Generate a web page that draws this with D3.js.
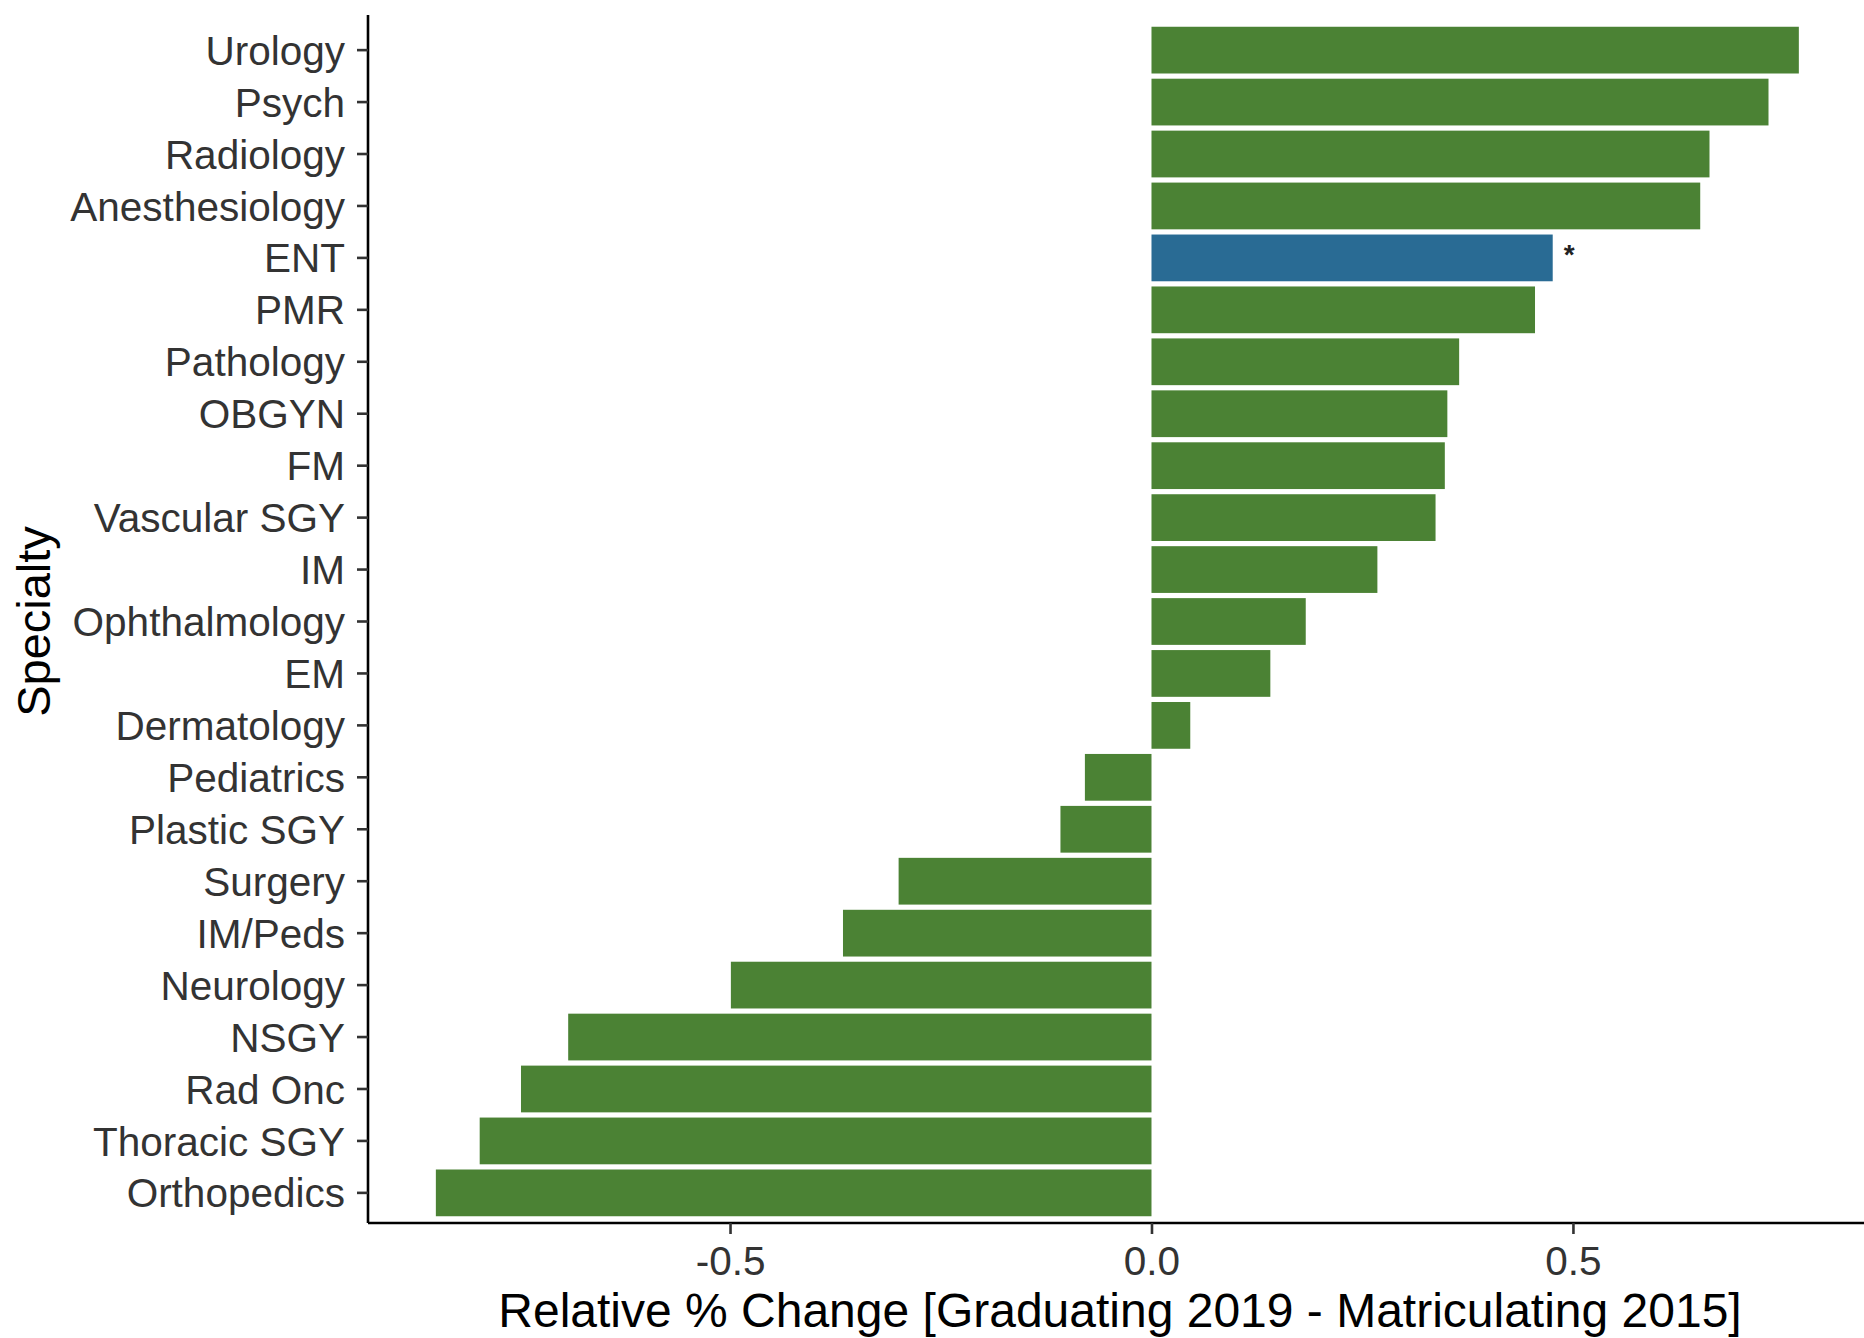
<!DOCTYPE html>
<html><head><meta charset="utf-8">
<script src="https://cdn.jsdelivr.net/npm/d3@7"></script>
<style>body{margin:0;background:#fff}svg{display:block}</style>
</head><body>
<script>
const categories = ["Urology","Psych","Radiology","Anesthesiology","ENT","PMR","Pathology","OBGYN","FM","Vascular SGY","IM","Ophthalmology","EM","Dermatology","Pediatrics","Plastic SGY","Surgery","IM/Peds","Neurology","NSGY","Rad Onc","Thoracic SGY","Orthopedics"];
const values = [0.768,0.732,0.662,0.651,0.476,0.455,0.365,0.351,0.348,0.337,0.268,0.183,0.141,0.046,-0.079,-0.108,-0.300,-0.366,-0.499,-0.692,-0.748,-0.797,-0.849];
const highlighted = ["ENT"];
const xTicks = [-0.5,0.0,0.5];
const xTitle = "Relative % Change [Graduating 2019 - Matriculating 2015]";
const yTitle = "Specialty";

const W=1864,H=1338;
const m={left:368,right:0,top:20,bottom:1338-1223};
const svg=d3.select("body").append("svg").attr("width",W).attr("height",H);
const font="'Liberation Sans', Arial, sans-serif";

const x=d3.scaleLinear().domain([-0.9295,0.8453]).range([m.left,W-m.right]);
const y=d3.scaleBand().domain(categories).range([m.top,H-m.bottom]).paddingInner(0.1).paddingOuter(0.13);

const g=svg.append("g");
g.selectAll("rect.bar").data(categories).join("rect")
  .attr("class","bar")
  .attr("x",(d,i)=>x(Math.min(0,values[i])))
  .attr("width",(d,i)=>Math.abs(x(values[i])-x(0)))
  .attr("y",d=>y(d))
  .attr("height",y.bandwidth())
  .attr("fill",d=>highlighted.includes(d)?"#296b94":"#4b8234");

// asterisk
highlighted.forEach(c=>{
  const i=categories.indexOf(c);
  g.append("text").attr("x",x(values[i])+11).attr("y",y(c)+y.bandwidth()/2+6)
   .attr("font-family",font).attr("font-size",28).attr("font-weight","bold").attr("fill","#222").text("*");
});

// axes
const xAxis=svg.append("g").attr("transform",`translate(0,${H-m.bottom})`)
  .call(d3.axisBottom(x).tickValues(xTicks).tickFormat(d=>d3.format(".1f")(d).replace("\u2212","-")).tickSize(11).tickPadding(11));
const yAxis=svg.append("g").attr("transform",`translate(${m.left},0)`)
  .call(d3.axisLeft(y).tickSize(11).tickPadding(12));
[xAxis,yAxis].forEach(a=>{
  a.select(".domain").attr("stroke","#000").attr("stroke-width",2.6);
  a.selectAll(".tick line").attr("stroke","#333").attr("stroke-width",2.6);
  a.selectAll(".tick text").attr("font-family",font).attr("font-size",40.5).attr("fill","#333");
});
xAxis.select(".domain").attr("d",`M${m.left},0H${W}`);
yAxis.select(".domain").attr("d",`M0,15V${H-m.bottom}`);
yAxis.selectAll(".tick text").attr("dy","0.36em");
xAxis.selectAll(".tick text").attr("dy","0.75em");

svg.append("text").attr("x",1120).attr("y",1327)
  .attr("text-anchor","middle").attr("font-family",font).attr("font-size",48).attr("fill","#000").text(xTitle);
svg.append("text").attr("transform",`translate(50,${(m.top+H-m.bottom)/2}) rotate(-90)`)
  .attr("text-anchor","middle").attr("font-family",font).attr("font-size",47).attr("fill","#000").text(yTitle);
</script>
</body></html>
